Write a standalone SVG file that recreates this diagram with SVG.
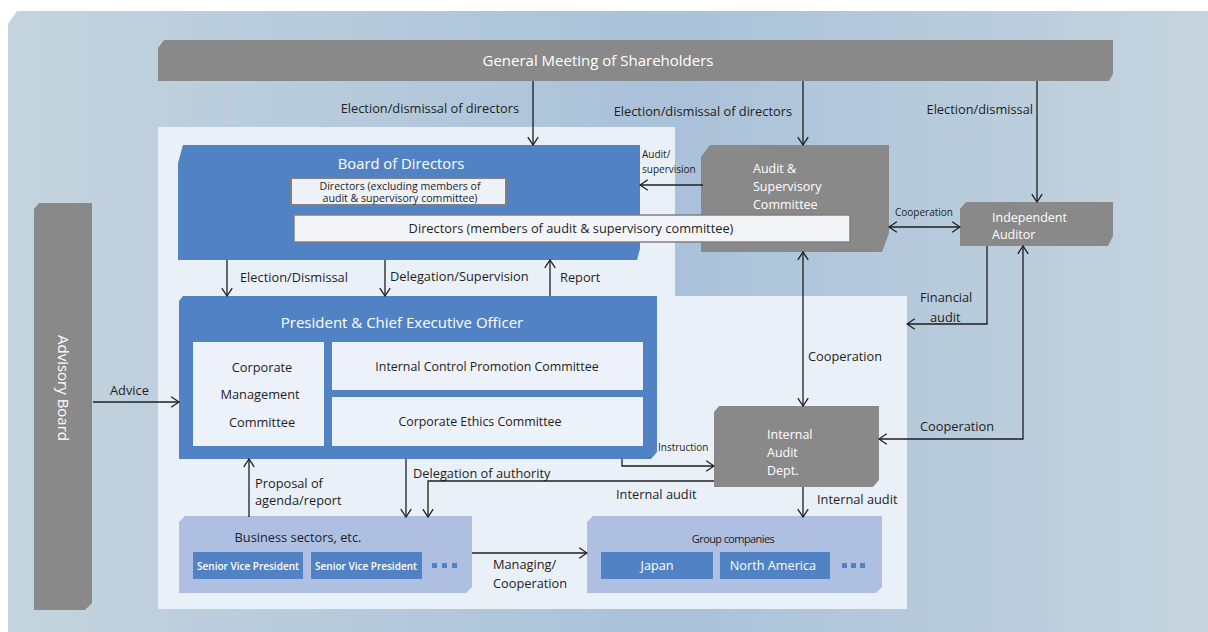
<svg xmlns="http://www.w3.org/2000/svg" width="1208" height="632" viewBox="0 0 1208 632">
<defs>
<linearGradient id="bg" x1="0" y1="0" x2="1" y2="0">
<stop offset="0" stop-color="#c4d4de"/>
<stop offset="0.55" stop-color="#a9c1d9"/>
<stop offset="1" stop-color="#c5d4de"/>
</linearGradient>
<marker id="ah" viewBox="0 0 10 12" refX="9.3" refY="6" markerWidth="10" markerHeight="12" markerUnits="userSpaceOnUse" orient="auto-start-reverse">
<path d="M1.5,0.8 L9.3,6 L1.5,11.2" fill="none" stroke="#1e1e1e" stroke-width="1.3"/>
</marker>
<style>
text{font-family:"Open Sans","Liberation Sans",sans-serif;}
.lbl{font-size:12.8px;fill:#1e1e1e}
.sm{font-size:10px;fill:#1e1e1e}
.wt{fill:#ffffff}
.blue{fill:#5183c4}
.grey{fill:#898989}
.panel{fill:#eaf0f8}
.inner{fill:#edf1f9}
.lite{fill:#aebfe2}
.conn path{stroke:#1e1e1e;stroke-width:1.3;fill:none}
.mid{text-anchor:middle}
.end{text-anchor:end}
.svp{font-size:10px;font-weight:600}
</style>
</defs>

<path d="M17,11 H1208 V632 H8 V24 Z" fill="url(#bg)"/>

<g id="panels">
<rect class="panel" x="158" y="127" width="517" height="170"/>
<rect class="panel" x="158" y="296" width="749" height="313"/>
</g>

<g id="shareholders">
<path class="grey" d="M164,40 H1113 V74 L1109,81 H158 V48 Z"/>
<text class="wt mid" x="598" y="66" font-size="15">General Meeting of Shareholders</text>
</g>

<g id="advisory">
<path class="grey" d="M39,203 H92 V603 L85,610 H34 V209 Z"/>
<text class="wt mid" font-size="15" transform="translate(58,388) rotate(90)">Advisory Board</text>
</g>

<g id="board">
<path class="blue" d="M183,145 H640 V249 L637,260 H178 V163 Z"/>
<text class="wt mid" x="401" y="169" font-size="14.8">Board of Directors</text>
<rect x="291" y="178" width="215" height="27" fill="#eef2f8" stroke="#808080" stroke-width="2"/>
<text class="mid" x="400" y="189.5" font-size="10.6" fill="#1e1e1e">Directors (excluding members of</text>
<text class="mid" x="400" y="202" font-size="10.6" fill="#1e1e1e">audit &amp; supervisory committee)</text>
</g>

<g id="audit-committee">
<path class="grey" d="M710,145 H889 V233 L882,252 H701 V157 Z"/>
<text class="wt" font-size="12.5"><tspan x="753" y="173">Audit &amp;</tspan><tspan x="753" y="191">Supervisory</tspan><tspan x="753" y="209">Committee</tspan></text>
</g>

<g id="directors-audit">
<rect x="294" y="215" width="556" height="27" fill="#f4f5f8" stroke="#808080" stroke-width="1.5"/>
<text class="mid" x="571" y="233" font-size="12.8" fill="#1e1e1e">Directors (members of audit &amp; supervisory committee)</text>
</g>

<g id="independent-auditor">
<path class="grey" d="M966,202 H1113 V236 L1108,246 H960 V209 Z"/>
<text class="wt" font-size="12.5"><tspan x="992" y="222">Independent</tspan><tspan x="992" y="239">Auditor</tspan></text>
</g>

<g id="president">
<path class="blue" d="M183,296 H657 V452 L651,459 H179 V301 Z"/>
<text class="wt mid" x="402" y="328" font-size="15">President &amp; Chief Executive Officer</text>
<rect class="inner" x="193" y="342" width="131" height="104"/>
<text class="lbl mid" x="262" y="372">Corporate</text>
<text class="lbl mid" x="260" y="399">Management</text>
<text class="lbl mid" x="262" y="427">Committee</text>
<rect class="inner" x="332" y="342" width="311" height="48"/>
<text class="mid" x="487" y="371" font-size="12.4" fill="#1e1e1e">Internal Control Promotion Committee</text>
<rect class="inner" x="332" y="397" width="311" height="49"/>
<text class="mid" x="480" y="426" font-size="12.4" fill="#1e1e1e">Corporate Ethics Committee</text>
</g>

<g id="internal-audit">
<path class="grey" d="M719,406 H879 V480 L873,487 H714 V412 Z"/>
<text class="wt" font-size="12.5"><tspan x="767" y="439">Internal</tspan><tspan x="767" y="457">Audit</tspan><tspan x="767" y="475">Dept.</tspan></text>
</g>

<g id="business-sectors">
<path class="lite" d="M185,516 H472 V587 L466,593 H179 V522 Z"/>
<text class="lbl mid" x="298" y="542">Business sectors, etc.</text>
<rect class="blue" x="193" y="552" width="110" height="27"/>
<text class="wt mid svp" x="248" y="570">Senior Vice President</text>
<rect class="blue" x="311" y="552" width="111" height="27"/>
<text class="wt mid svp" x="366" y="570">Senior Vice President</text>
<rect class="blue" x="432" y="563" width="5" height="5"/>
<rect class="blue" x="442" y="563" width="5" height="5"/>
<rect class="blue" x="452" y="563" width="5" height="5"/>
</g>

<g id="group-companies">
<path class="lite" d="M593,516 H882 V587 L876,593 H587 V522 Z"/>
<text class="mid" x="733" y="543" font-size="11" letter-spacing="-0.6" fill="#1e1e1e">Group companies</text>
<rect class="blue" x="601" y="552" width="112" height="27"/>
<text class="wt mid" x="657" y="570" font-size="12.7">Japan</text>
<rect class="blue" x="720" y="552" width="110" height="27"/>
<text class="wt mid" x="773" y="570" font-size="12.7">North America</text>
<rect class="blue" x="842" y="563" width="5" height="5"/>
<rect class="blue" x="851" y="563" width="5" height="5"/>
<rect class="blue" x="860" y="563" width="5" height="5"/>
</g>

<g id="connectors" class="conn">
<path d="M533,81 V145" marker-end="url(#ah)"/>
<path d="M803,81 V145" marker-end="url(#ah)"/>
<path d="M1037,81 V202" marker-end="url(#ah)"/>
<path d="M703,185 H640" marker-end="url(#ah)"/>
<path d="M889,227 H960" marker-start="url(#ah)" marker-end="url(#ah)"/>
<path d="M227,260 V296" marker-end="url(#ah)"/>
<path d="M385,260 V296" marker-end="url(#ah)"/>
<path d="M550,296 V260" marker-end="url(#ah)"/>
<path d="M803,252 V406" marker-start="url(#ah)" marker-end="url(#ah)"/>
<path d="M987,246 V324 H907" marker-end="url(#ah)"/>
<path d="M879,439 H1023 V246" marker-start="url(#ah)" marker-end="url(#ah)"/>
<path d="M93,402 H179" marker-end="url(#ah)"/>
<path d="M622,459 V466 H714" marker-end="url(#ah)"/>
<path d="M714,481 H428 V517" marker-end="url(#ah)"/>
<path d="M406,459 V517" marker-end="url(#ah)"/>
<path d="M249,517 V459" marker-end="url(#ah)"/>
<path d="M803,487 V517" marker-end="url(#ah)"/>
<path d="M472,553 H587" marker-end="url(#ah)"/>
</g>

<g id="labels">
<text class="lbl end" x="519" y="113">Election/dismissal of directors</text>
<text class="lbl end" x="792" y="116">Election/dismissal of directors</text>
<text class="lbl end" x="1033" y="114">Election/dismissal</text>
<text class="sm"><tspan x="642" y="158">Audit/</tspan><tspan x="642" y="173">supervision</tspan></text>
<text class="sm" x="895" y="216">Cooperation</text>
<text class="lbl" x="240" y="282">Election/Dismissal</text>
<text class="lbl" x="390" y="281">Delegation/Supervision</text>
<text class="lbl" x="560" y="282">Report</text>
<text class="lbl"><tspan x="920" y="302">Financial</tspan><tspan x="930" y="322">audit</tspan></text>
<text class="lbl" x="808" y="361">Cooperation</text>
<text class="lbl" x="920" y="431">Cooperation</text>
<text class="lbl" x="110" y="395">Advice</text>
<text class="sm" x="658" y="451">Instruction</text>
<text class="lbl" x="413" y="478">Delegation of authority</text>
<text class="lbl" x="616" y="499">Internal audit</text>
<text class="lbl" x="817" y="504">Internal audit</text>
<text class="lbl"><tspan x="255" y="488">Proposal of</tspan><tspan x="255" y="505">agenda/report</tspan></text>
<text class="lbl"><tspan x="493" y="569">Managing/</tspan><tspan x="493" y="588">Cooperation</tspan></text>
</g>
</svg>
